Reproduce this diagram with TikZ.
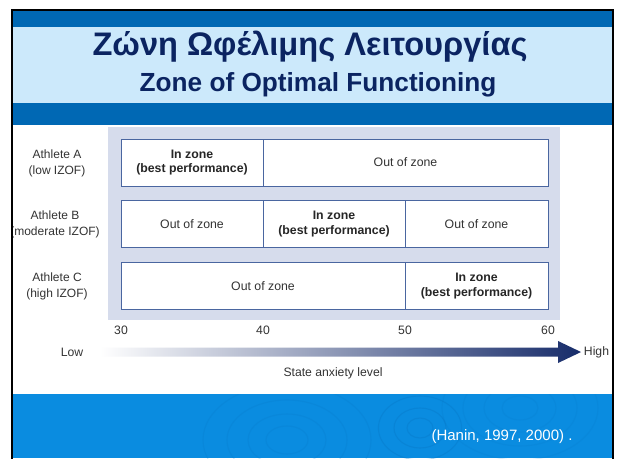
\documentclass[tikz,border=0pt]{standalone}
\usepackage{fontspec}
\setmainfont{Liberation Sans}
\begin{document}
\definecolor{topblue}{HTML}{0068B4}
\definecolor{titlebg}{HTML}{CCE9FB}
\definecolor{titleink}{HTML}{0B2461}
\definecolor{bandblue}{HTML}{0A8CE0}
\definecolor{ripple}{HTML}{0672C0}
\definecolor{panelbg}{HTML}{D6DCEC}
\definecolor{boxline}{HTML}{4A66A0}
\definecolor{labelink}{HTML}{333333}
\definecolor{arrowdark}{HTML}{172C6A}
\definecolor{arrowmid}{HTML}{5C6A9E}
\tikzset{
  zonebox/.style={draw=boxline, line width=1pt, fill=white, inner sep=0pt,
    minimum height=47pt, align=center, font=\fontsize{12.3}{14.5}\selectfont, text=labelink},
  inzone/.style={zonebox, font=\fontsize{12.3}{14.5}\selectfont\bfseries, text=black!85},
  athlete/.style={align=center, font=\fontsize{12}{16}\selectfont, text=labelink},
  tick/.style={font=\fontsize{12.2}{14}\selectfont, text=labelink},
  ringline/.style={draw=ripple, line width=1.1pt, opacity=0.18}
}
\begin{tikzpicture}[x=1pt,y=-1pt]
  \useasboundingbox (0,0) rectangle (617,458);
  \fill[white] (0,0) rectangle (617,458);

  % slide bands
  \fill[topblue] (12,10) rectangle (613,27);
  \fill[titlebg] (12,27) rectangle (613,103);
  \fill[topblue] (12,103) rectangle (613,125);
  \fill[bandblue] (12,394) rectangle (613,458);

  % water ripples on the footer band
  \begin{scope}
    \clip (12,394) rectangle (613,458);
    \foreach \r in {14,26,40,56} \draw[ringline] (287,440) ellipse ({\r*1.5} and \r);
    \foreach \r in {10,20,32} \draw[ringline, opacity=0.3] (420,428) ellipse ({\r*1.3} and \r);
    \foreach \r in {12,24,38,52} \draw[ringline, opacity=0.14] (520,408) ellipse ({\r*1.5} and \r);
  \end{scope}

  % titles
  \node[font=\fontsize{32.6}{36}\selectfont\bfseries, text=titleink] (title) at (310,47) {Ζώνη Ωφέλιμης Λειτουργίας};
  \node[font=\fontsize{26.2}{30}\selectfont\bfseries, text=titleink] (subtitle) at (318,85) {Zone of Optimal Functioning};

  % chart panel
  \fill[panelbg] (108,127) rectangle (560,320);

  % Athlete A
  \node[inzone, minimum width=142pt] (a1) at (192,162.5) {In zone\\(best performance)};
  \node[zonebox, minimum width=285pt] (a2) at (405.5,162.5) {Out of zone};
  % Athlete B
  \node[zonebox, minimum width=142pt] (b1) at (192,224) {Out of zone};
  \node[inzone, minimum width=142pt] (b2) at (334,224) {In zone\\(best performance)};
  \node[zonebox, minimum width=143pt] (b3) at (476.5,224) {Out of zone};
  % Athlete C
  \node[zonebox, minimum width=284pt] (c1) at (263,286) {Out of zone};
  \node[inzone, minimum width=143pt] (c2) at (476.5,286) {In zone\\(best performance)};

  % row labels
  \node[athlete] (la) at (57,163) {Athlete A\\(low IZOF)};
  \node[athlete] (lb) at (55,224) {Athlete B\\(moderate IZOF)};
  \node[athlete] (lc) at (57,286) {Athlete C\\(high IZOF)};

  % scale
  \node[tick] (t30) at (121,330) {30};
  \node[tick] (t40) at (263,330) {40};
  \node[tick] (t50) at (405,330) {50};
  \node[tick] (t60) at (548,330) {60};

  % anxiety arrow
  \shade[left color=white, middle color=arrowmid, right color=arrowdark]
    (100,347.5) -- (558,347.5) -- (558,341) -- (581,352) -- (558,363) -- (558,356.5) -- (100,356.5) -- cycle;
  \node[tick] (low) at (72,352) {Low};
  \node[tick] (high) at (596.5,352) {High};
  \node[tick] (axis) at (333,373) {State anxiety level};

  % citation
  \node[font=\fontsize{15}{18}\selectfont, text=white] (cite) at (502,437) {(Hanin, 1997, 2000) .};

  % outer frame
  \fill[white] (0,0) rectangle (10.8,458);
  \draw[black, line width=2.5pt] (12,460) -- (12,10) -- (613,10) -- (613,460);
\end{tikzpicture}
\end{document}
